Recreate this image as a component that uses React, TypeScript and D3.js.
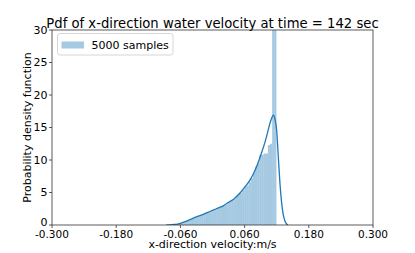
import React from "react";
import * as d3 from "d3";

const title = "Pdf of x-direction water velocity at time = 142 sec";
const xLabel = "x-direction velocity:m/s";
const yLabel = "Probability density function";
const legendLabel = "5000 samples";

const xTicks = [-0.3, -0.18, -0.06, 0.06, 0.18, 0.3];
const xTickLabels = ["-0.300", "-0.180", "-0.060", "0.060", "0.180", "0.300"];
const yTicks = [0, 5, 10, 15, 20, 25, 30];

// histogram: 50 bins of equal width starting at binStart
const binStart = -0.0805;
const binWidth = 0.004;
const binDensity = [
  0.05, 0.1, 0.1, 0.15, 0.2, 0.3, 0.4, 0.5, 0.65, 0.8,
  0.9, 1.05, 1.2, 1.35, 1.45, 1.6, 1.7, 1.85, 2.0, 2.1,
  2.3, 2.4, 2.5, 2.65, 2.8, 3.0, 3.1, 3.4, 3.6, 3.9,
  4.0, 4.5, 4.8, 5.0, 5.4, 5.9, 6.1, 6.6, 7.2, 8.0,
  9.0, 9.5, 10.8, 10.8, 11.0, 11.0, 12.3, 12.5, 45, 45,
];

// KDE curve
const kdeX = [
  -0.086, -0.08, -0.075, -0.065, -0.06, -0.05, -0.04, -0.03, -0.02, -0.01,
  0.0, 0.01, 0.02, 0.03, 0.04, 0.05, 0.06, 0.07, 0.08, 0.09,
  0.1, 0.105, 0.11, 0.1135, 0.117, 0.12, 0.123, 0.126, 0.129, 0.132,
  0.135, 0.138, 0.141,
];
const kdeY = [
  0.0, 0.03, 0.06, 0.15, 0.25, 0.55, 0.9, 1.25, 1.55, 1.9,
  2.25, 2.6, 2.95, 3.5, 4.0, 4.8, 5.8, 6.9, 8.5, 10.7,
  13.3, 14.9, 16.3, 16.9, 16.2, 14.5, 10.5, 6.5, 3.6, 1.7,
  0.7, 0.2, 0.0,
];

const W = 415;
const H = 253;
const M = { left: 52, right: 373, top: 30, bottom: 225 };
const FONT = "DejaVu Sans, sans-serif";
const BLUE = "#1f77b4";

export default function App() {
  const x = d3.scaleLinear().domain([-0.3, 0.3]).range([M.left, M.right]);
  const y = d3.scaleLinear().domain([0, 30]).range([M.bottom, M.top]);

  const line = d3
    .line<number>()
    .x((_, i) => x(kdeX[i]))
    .y((d) => y(d))
    .curve(d3.curveMonotoneX);

  return (
    <svg
      width={W}
      height={H}
      style={{ position: "absolute", left: 0, top: 0, background: "#fff" }}
      fontFamily={FONT}
    >
      <defs>
        <clipPath id="plot">
          <rect x={M.left} y={M.top} width={M.right - M.left} height={M.bottom - M.top} />
        </clipPath>
      </defs>
      <g clipPath="url(#plot)">
        {binDensity.map((d, i) => {
          const x0 = x(binStart + i * binWidth);
          const x1 = x(binStart + (i + 1) * binWidth);
          return (
            <rect
              key={i}
              x={x0}
              y={y(d)}
              width={x1 - x0}
              height={y(0) - y(d)}
              fill={BLUE}
              fillOpacity={0.4}
            />
          );
        })}
        <path d={line(kdeY) || ""} fill="none" stroke={BLUE} strokeWidth={1.3} />
      </g>
      {/* spines */}
      <rect
        x={M.left}
        y={M.top}
        width={M.right - M.left}
        height={M.bottom - M.top}
        fill="none"
        stroke="#333"
        strokeWidth={0.8}
      />
      {/* x ticks */}
      {xTicks.map((t, i) => (
        <g key={i}>
          <line x1={x(t)} x2={x(t)} y1={M.bottom} y2={M.bottom + 3} stroke="#333" strokeWidth={0.8} />
          <text x={x(t)} y={237.5} fontSize={10.5} textAnchor="middle" fill="#000">
            {xTickLabels[i]}
          </text>
        </g>
      ))}
      {/* y ticks */}
      {yTicks.map((t, i) => (
        <g key={i}>
          <line x1={M.left - 3} x2={M.left} y1={y(t)} y2={y(t)} stroke="#333" strokeWidth={0.8} />
          <text
            x={M.left - 4.5}
            y={y(t)}
            dy={t === 0 ? "0.1em" : "0.36em"}
            fontSize={11}
            textAnchor="end"
            fill="#000"
          >
            {t}
          </text>
        </g>
      ))}
      <text x={(M.left + M.right) / 2} y={248} fontSize={11} textAnchor="middle" fill="#000">
        {xLabel}
      </text>
      <text
        transform={`translate(${31},${(M.top + M.bottom) / 2}) rotate(-90)`}
        fontSize={11}
        textAnchor="middle"
        fill="#000"
      >
        {yLabel}
      </text>
      <text x={(M.left + M.right) / 2} y={27.5} fontSize={13.2} textAnchor="middle" fill="#000">
        {title}
      </text>
      {/* legend */}
      <rect x={57.5} y={33.5} width={115.5} height={21.5} rx={2.5} fill="#fff" fillOpacity={0.8} stroke="#ccc" strokeWidth={0.8} />
      <rect x={61.5} y={41.5} width={22.5} height={7} fill={BLUE} fillOpacity={0.4} />
      <text x={91.5} y={48.5} fontSize={11} fill="#000">
        {legendLabel}
      </text>
    </svg>
  );
}
